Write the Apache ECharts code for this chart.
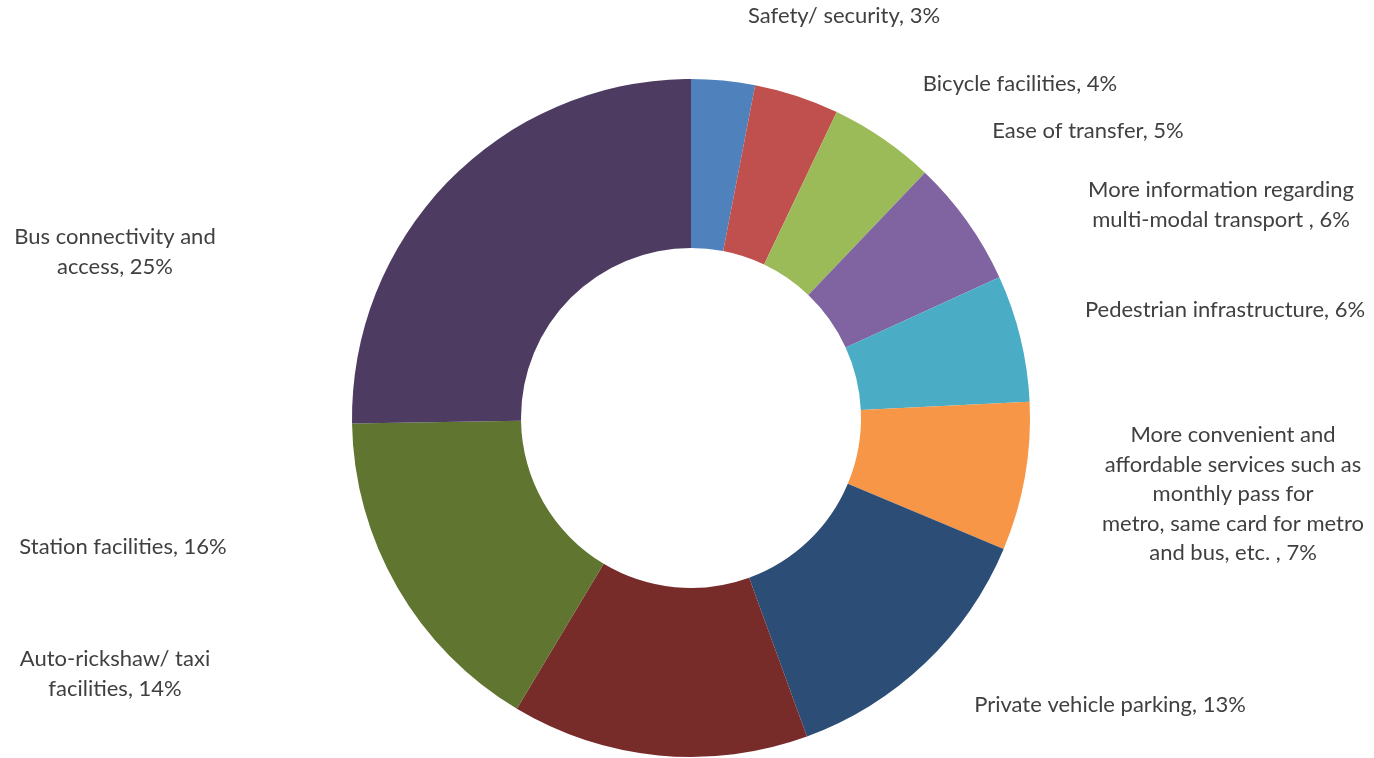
<!DOCTYPE html>
<html>
<head>
<meta charset="utf-8">
<style>
  html, body { margin: 0; padding: 0; background: #ffffff; }
  #chart { width: 1374px; height: 758px; }
</style>
<script src="https://cdn.jsdelivr.net/npm/echarts@6/dist/echarts.min.js"></script>
</head>
<body>
<div id="chart"></div>
<script>
// Share of suggested improvements (percent)
const categories = [
  'Safety/ security',
  'Bicycle facilities',
  'Ease of transfer',
  'More information regarding\nmulti-modal transport ',
  'Pedestrian infrastructure',
  'More convenient and\naffordable services such as\nmonthly pass for\nmetro, same card for metro\nand bus, etc. ',
  'Private vehicle parking',
  'Auto-rickshaw/ taxi\nfacilities',
  'Station facilities',
  'Bus connectivity and\naccess'
];
const values = [3, 4, 5, 6, 6, 7, 13, 14, 16, 25];
const colors = [
  '#4F81BD', '#C0504D', '#9BBB59', '#8064A2', '#4BACC6',
  '#F79646', '#2C4D75', '#772C2A', '#5F7530', '#4D3B62'
];

// Label anchor points (centre of each text block), in pixels
const labelAnchors = [
  [844, 16], [1020, 84], [1088, 131], [1221, 205], [1225, 310],
  [1233, 494], [1110, 705], [115, 674], [123, 547], [115, 252]
];

const chart = echarts.init(document.getElementById('chart'), null, { renderer: 'canvas' });

chart.setOption({
  backgroundColor: '#ffffff',
  animation: false,
  series: [{
    type: 'pie',
    center: [691, 418],
    radius: [170, 339],
    startAngle: 90,
    clockwise: true,
    avoidLabelOverlap: false,
    data: categories.map((name, i) => ({
      name: name,
      value: values[i],
      itemStyle: { color: colors[i] }
    })),
    itemStyle: { borderWidth: 0 },
    label: {
      show: true,
      position: 'outside',
      formatter: p => p.name + ', ' + p.value + '%',
      color: '#404040',
      fontFamily: 'Lato, "Open Sans", sans-serif',
      fontSize: 22,
      lineHeight: 29.5,
      align: 'center'
    },
    labelLine: { show: false },
    labelLayout: params => ({
      x: labelAnchors[params.dataIndex][0],
      y: labelAnchors[params.dataIndex][1],
      align: 'center',
      verticalAlign: 'middle'
    })
  }]
});
</script>
</body>
</html>
